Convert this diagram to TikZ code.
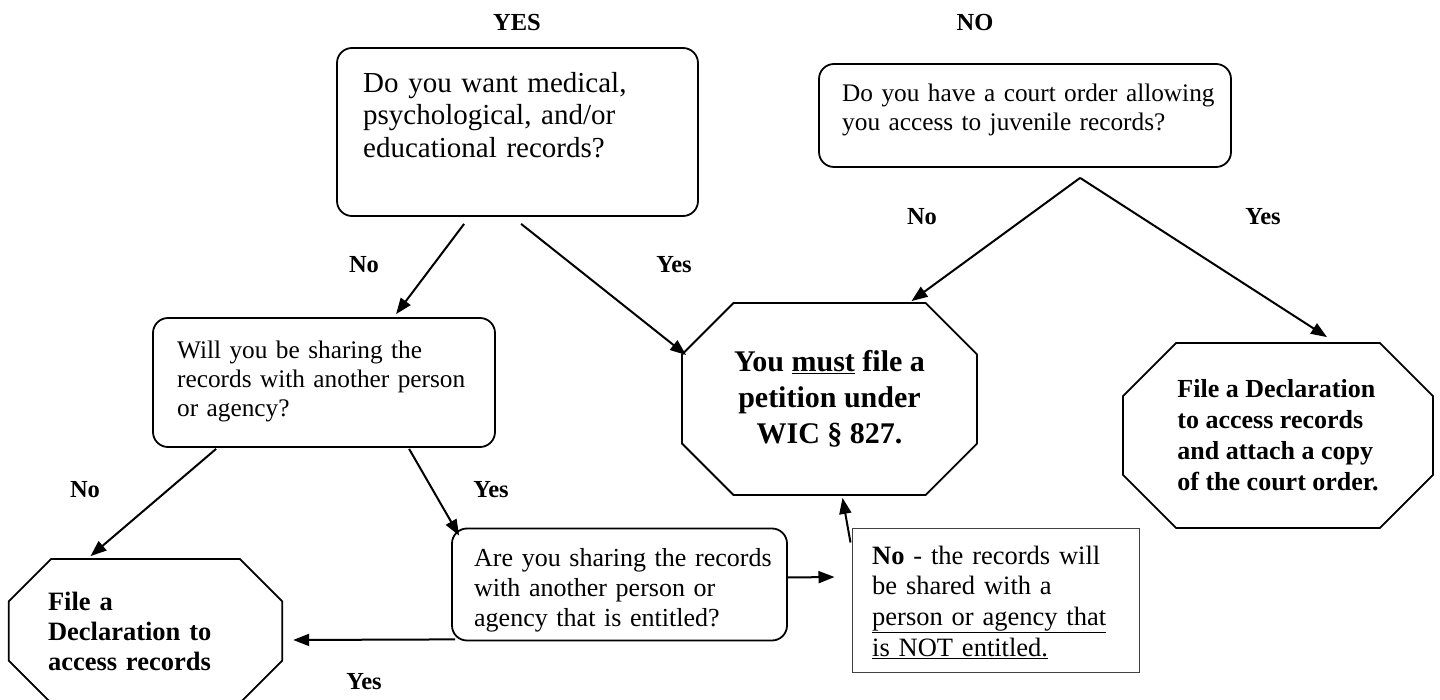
\documentclass[tikz,border=0pt]{standalone}
\usepackage{fontspec}
\setmainfont{Liberation Serif}
\usetikzlibrary{calc, arrows.meta, shapes.misc}

\tikzset{
    qbox/.style={draw, line width=1.8pt, rounded corners=15pt},
    qtext/.style={anchor=base west, align=left, inner sep=0pt, font=\fontsize{25.3}{29}\selectfont},
    octbox/.style={draw, line width=1.8pt, chamfered rectangle, inner sep=0pt, font=\bfseries\fontsize{26.5}{30}\selectfont},
    lab/.style={inner sep=0pt, font=\bfseries\fontsize{24.5}{28}\selectfont},
    arr/.style={line width=2pt, -{Triangle[length=16pt,width=12pt]}}
}

\begin{document}
\begin{tikzpicture}[x=1pt, y=-1pt]
            \useasboundingbox (0,0) rectangle (1440,700);
            % headings
            \node[lab] (yeshead) at (517,23) {YES};
            \node[lab] (nohead) at (975,23) {NO};
            % question boxes
            \node[qbox, minimum width=361pt, minimum height=168pt] (wantbox) at (517.5,132) {};
            \node[qtext, text width=330pt, font=\fontsize{29}{32.5}\selectfont] (wanttxt) at (363,92.5) {Do you want medical,\\psychological, and/or\\educational records?};
            \node[qbox, minimum width=412pt, minimum height=103pt] (courtbox) at (1025,115.5) {};
            \node[qtext, text width=380pt] (courttxt) at (842,101.5) {Do you have a court order allowing\\you access to juvenile records?};
            \node[qbox, minimum width=342pt, minimum height=129pt] (sharebox) at (324,382.5) {};
            \node[qtext, text width=310pt] (sharetxt) at (177,358.5) {Will you be sharing the\\records with another person\\or agency?};
            \node[qbox, minimum width=335pt, minimum height=112pt] (entitledbox) at (619.5,584.5) {};
            \node[qtext, text width=310pt, font=\fontsize{26}{30}\selectfont] (entitledtxt) at (474,566.5) {Are you sharing the records\\with another person or\\agency that is entitled?};
            \node[draw=black!75, line width=1pt, minimum width=287pt, minimum height=144pt] (notbox) at (995.5,600) {};
            \node[qtext, text width=265pt, font=\fontsize{26.5}{30.7}\selectfont] (nottxt) at (872,564) {\textbf{No} - the records will\\be shared with a\\\underline{person or agency that}\\\underline{is NOT entitled.}};
            % outcomes
            \node[octbox, minimum width=295pt, minimum height=192pt, chamfered rectangle xsep=56pt, align=center, font=\bfseries\fontsize{30}{36}\selectfont] (mustoct) at (829.5,399) {You \underline{must} file a\\petition under\\WIC § 827.};
            \node[octbox, minimum width=310pt, minimum height=185pt, chamfered rectangle xsep=50pt, align=left, font=\bfseries\fontsize{26}{31}\selectfont] (courtoct) at (1278,435.5) {File a Declaration\\to access records\\and attach a copy\\of the court order.};
            \node[octbox, minimum width=273pt, minimum height=144pt, chamfered rectangle xsep=42pt, text width=195pt, align=left] (fileoct) at (145.5,631) {File a\\Declaration to\\access records};
            % labels
            \node[lab] (nowant) at (364,265) {No};
            \node[lab] (yeswant) at (674,265) {Yes};
            \node[lab] (nocourt) at (922,217) {No};
            \node[lab] (yescourt) at (1263,217) {Yes};
            \node[lab] (noshare) at (85,490) {No};
            \node[lab] (yesshare) at (491,490) {Yes};
            \node[lab] (yesentitled) at (364,682) {Yes};
            % arrows
            \coordinate (courtfork) at ($(courtbox.south west)+(262,10)$);
            \draw[arr] ($(wantbox.south west)+(128,7)$) -- ($(sharebox.north west)+(244,-3)$);
            \draw[arr] ($(wantbox.south west)+(185,7)$) -- ($(mustoct.west)+(5,-44)$);
            \draw[arr] (courtfork) -- ($(mustoct.north)+(82,-1)$);
            \draw[arr] (courtfork) -- ($(courtoct.north)+(49,-5)$);
            \draw[arr] ($(sharebox.south west)+(64,1)$) -- ($(fileoct.north)+(-55,-2)$);
            \draw[arr] ($(sharebox.south west)+(257,1)$) -- ($(entitledbox.north west)+(8,8)$);
            \draw[arr] ($(entitledbox.south west)+(4,-2)$) -- ($(fileoct.east)+(10,9)$);
            \draw[arr] ($(entitledbox.east)+(0,-7)$) -- ($(notbox.west)+(-17,-23)$);
            \draw[arr] ($(notbox.north west)+(-1,15)$) -- ($(mustoct.south)+(13,2)$);
\end{tikzpicture}
\end{document}
